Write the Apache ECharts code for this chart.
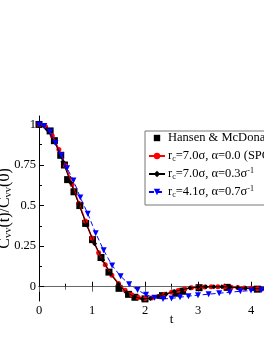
<!DOCTYPE html>
<html><head><meta charset="utf-8">
<script src="https://cdn.jsdelivr.net/npm/echarts@6/dist/echarts.min.js"></script>
<style>html,body{margin:0;padding:0;background:#fff}#c{width:264px;height:341px}</style>
</head><body><div id="c"></div>
<script>
const hansenT = [0, 0.21, 0.29, 0.41, 0.48, 0.54, 0.66, 0.77, 0.88, 1.01, 1.17, 1.32, 1.51, 1.69, 1.81, 2.0, 2.33, 2.58, 2.71, 3.02, 3.55, 4.12];
const hansenV = [1.0, 0.96, 0.90, 0.81, 0.75, 0.66, 0.585, 0.50, 0.39, 0.29, 0.18, 0.09, -0.01, -0.047, -0.065, -0.075, -0.055, -0.04, -0.028, -0.006, -0.004, -0.015];

const spcT = [0,0.125,0.25,0.375,0.5,0.625,0.75,0.875,1.0,1.125,1.25,1.375,1.5,1.625,1.75,1.875,2.0,2.125,2.25,2.375,2.5,2.625,2.75,2.875,3.0,3.125,3.25,3.375,3.5,3.625,3.75,3.875,4.0,4.125,4.25,4.375,4.5,4.625,4.75,4.875,5.0];
const spcV = [1.0,0.985,0.93,0.845,0.745,0.63,0.515,0.405,0.30,0.21,0.135,0.07,0.02,-0.022,-0.05,-0.066,-0.072,-0.07,-0.06,-0.047,-0.034,-0.023,-0.014,-0.007,-0.003,-0.001,0.0,0.0,-0.001,-0.003,-0.005,-0.008,-0.01,-0.012,-0.013,-0.013,-0.013,-0.012,-0.012,-0.011,-0.011];

const a03T = [0,0.15,0.3,0.45,0.6,0.75,0.9,1.05,1.2,1.35,1.5,1.65,1.8,1.95,2.1,2.25,2.4,2.55,2.7,2.85,3.0,3.15,3.3,3.45,3.6,3.75,3.9,4.05,4.2,4.35,4.5,4.65,4.8,4.95];
const a03V = [1.0,0.97,0.89,0.77,0.64,0.51,0.38,0.265,0.165,0.08,0.015,-0.035,-0.062,-0.075,-0.072,-0.06,-0.045,-0.03,-0.018,-0.008,-0.002,0.0,0.0,0.0,-0.002,-0.006,-0.01,-0.012,-0.013,-0.013,-0.012,-0.012,-0.012,-0.012];

const a07T = [0,0.1,0.21,0.31,0.42,0.53,0.65,0.78,0.92,1.07,1.22,1.38,1.54,1.7,1.86,2.02,2.18,2.34,2.5,2.66,2.82,3.0,3.2,3.4,3.6,3.8,4.0,4.2,4.4,4.6,4.8,5.0];
const a07V = [1.0,0.99,0.955,0.885,0.81,0.73,0.655,0.55,0.45,0.33,0.225,0.13,0.065,0.015,-0.02,-0.05,-0.068,-0.075,-0.072,-0.065,-0.058,-0.052,-0.046,-0.04,-0.034,-0.028,-0.024,-0.02,-0.018,-0.016,-0.015,-0.015];

const yMajor = [0, 0.25, 0.5, 0.75, 1];
const yMinor = [0.125, 0.375, 0.625, 0.875];

const names = ['Hansen & McDonald', 'spc', 'a03', 'a07'];
const legendText = {
  'Hansen & McDonald': 'Hansen & McDonald',
  'spc': 'r{s|c}=7.0σ, α=0.0 (SPC)',
  'a03': 'r{s|c}=7.0σ, α=0.3σ{p|-1}',
  'a07': 'r{s|c}=4.1σ, α=0.7σ{p|-1}'
};

function zip(t, v) { return t.map((x, i) => [x, v[i]]); }

const FONT = 'Liberation Serif';
const chart = echarts.init(document.getElementById('c'), null, {renderer: 'canvas'});
const axisCommon = {
  axisLine: {show: true, lineStyle: {color: '#000', width: 1}},
  splitLine: {show: false}
};
chart.setOption({
  animation: false,
  backgroundColor: '#fff',
  grid: {left: 39, top: 116, bottom: 40, right: -40, containLabel: false, outerBoundsMode: 'none'},
  legend: {
    orient: 'vertical', left: 145, top: 131,
    data: names,
    backgroundColor: '#fff', borderColor: '#777', borderWidth: 1,
    padding: [0, 40, 6, 3], itemGap: 4, itemWidth: 16, itemHeight: 8,
    formatter: n => legendText[n],
    textStyle: {
      fontFamily: FONT, fontSize: 12.5, color: '#000', padding: [0,0,0,-2], lineHeight: 14,
      rich: {
        s: {fontFamily: FONT, fontSize: 8, verticalAlign: 'bottom', padding: [6,0,0,0], lineHeight: 14},
        p: {fontFamily: FONT, fontSize: 8, verticalAlign: 'top', padding: [0,0,6,0], lineHeight: 14}
      }
    }
  },
  xAxis: [{
    type: 'value', min: 0, max: 5, interval: 1, position: 'bottom',
    ...axisCommon,
    axisTick: {show: true, inside: true, length: 5, lineStyle: {color: '#000'}},
    minorTick: {show: true, splitNumber: 2, length: 3, lineStyle: {color: '#000'}},
    axisLabel: {fontFamily: FONT, fontSize: 12.5, color: '#000', margin: 3, showMaxLabel: false},
    name: 't', nameLocation: 'middle', nameGap: 12, nameMoveOverlap: false,
    nameTextStyle: {fontFamily: FONT, fontSize: 13, color: '#000'}
  }, {
    type: 'value', min: 0, max: 5, interval: 1, position: 'top',
    axisLine: {show: true, lineStyle: {color: '#666', width: 1}},
    splitLine: {show: false},
    axisTick: {show: true, inside: true, length: 5, lineStyle: {color: '#666'}},
    minorTick: {show: true, splitNumber: 2, length: 3, lineStyle: {color: '#666'}},
    axisLabel: {show: false}
  }],
  yAxis: [{
    type: 'value', min: -0.088, max: 1.052, position: 'left',
    ...axisCommon,
    axisTick: {show: true, inside: true, length: 5, customValues: yMajor, lineStyle: {color: '#000'}},
    axisLabel: {fontFamily: FONT, fontSize: 12.5, color: '#000', margin: 3, customValues: yMajor,
      formatter: v => String(v)},
    name: '{n|C}{s|vv}{n|(t)/C}{s|vv}{n|(0)}', nameLocation: 'middle', nameGap: 25, nameMoveOverlap: false,
    nameTextStyle: {
      rich: {
        n: {fontFamily: FONT, fontSize: 16, color: '#000'},
        s: {fontFamily: FONT, fontSize: 10.5, color: '#000', verticalAlign: 'bottom', padding: [7,0,0,0]}
      }
    }
  }, {
    type: 'value', min: -0.088, max: 1.052, position: 'left',
    axisLine: {show: false}, splitLine: {show: false},
    axisTick: {show: true, inside: true, length: 3, customValues: yMinor, lineStyle: {color: '#000'}},
    axisLabel: {show: false}
  }],
  series: [{
    name: 'Hansen & McDonald', type: 'line', data: zip(hansenT, hansenV),
    symbol: 'rect', symbolSize: 7, lineStyle: {width: 0}, itemStyle: {color: '#000'}, z: 2
  }, {
    name: 'spc', type: 'line', data: zip(spcT, spcV),
    symbol: 'circle', symbolSize: 5, lineStyle: {width: 1.6, color: '#ff0000'},
    itemStyle: {color: '#ff0000', borderWidth: 0}, z: 3
  }, {
    name: 'a03', type: 'line', data: zip(a03T, a03V),
    symbol: 'diamond', symbolSize: 5, lineStyle: {width: 1, color: '#000'},
    itemStyle: {color: '#000', borderWidth: 0}, z: 4
  }, {
    name: 'a07', type: 'line', data: zip(a07T, a07V),
    symbol: 'triangle', symbolRotate: 180, symbolSize: 6,
    lineStyle: {width: 1, color: '#0000ff', type: [5, 3]},
    itemStyle: {color: '#0000ff', borderWidth: 0}, z: 5
  }]
});
</script></body></html>
